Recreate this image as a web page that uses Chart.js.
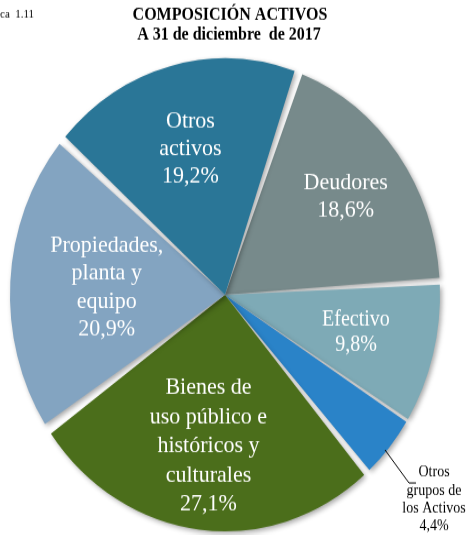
<!DOCTYPE html>
<html>
<head>
<meta charset="utf-8">
<script src="https://cdn.jsdelivr.net/npm/chart.js@4.4.0/dist/chart.umd.min.js"></script>
<style>
  html, body { margin: 0; padding: 0; background: #fff; }
  #wrap { position: relative; width: 472px; height: 535px; overflow: hidden; }
  /* the original picture is stretched vertically, so we stretch the canvas too */
  #chart { position: absolute; left: 0; top: 0; transform: scaleY(1.1); transform-origin: 0 0; }
</style>
</head>
<body>
<div id="wrap"><canvas id="chart" width="472" height="486"></canvas></div>
<script>
// data
const categories = ['Deudores', 'Efectivo', 'Otros grupos de los Activos',
  'Bienes de uso público e históricos y culturales', 'Propiedades, planta y equipo', 'Otros activos'];
const shares = [18.6, 9.8, 4.4, 27.1, 20.9, 19.2];
const labelLines = [
  ['Deudores'],
  ['Efectivo'],
  ['Otros', 'grupos de', 'los Activos'],
  ['Bienes de', 'uso público e', 'históricos y', 'culturales'],
  ['Propiedades,', 'planta y', 'equipo'],
  ['Otros', 'activos']
];
const titleLines = ['COMPOSICIÓN ACTIVOS', 'A 31 de diciembre  de 2017'];

const colors = ['#778a8b', '#7eaab6', '#2a83c8', '#4b6e1b', '#83a4c1', '#2a7697'];
// label placement: fraction of radius, font size, line height
const labelStyle = [
  { r: 0.71, size: 22, lh: 25.5 },
  { r: 0.64, size: 20, lh: 22.7 },
  { r: null, size: 14, lh: 16.3 },
  { r: 0.655, size: 22, lh: 26.5 },
  { r: 0.56, size: 22, lh: 25.5 },
  { r: 0.65, size: 22, lh: 25 }
];

const fmt = v => v.toFixed(1).replace('.', ',') + '%';
const serif = '"Liberation Serif", "Times New Roman", serif';

const shadowPlugin = {
  id: 'sliceShadow',
  beforeDatasetsDraw(chart) {
    const ctx = chart.ctx;
    ctx.save();
    ctx.shadowColor = 'rgba(0,0,0,0.35)';
    ctx.shadowBlur = 5;
    ctx.shadowOffsetX = 2;
    ctx.shadowOffsetY = 2;
  },
  afterDatasetsDraw(chart) {
    chart.ctx.restore();
  }
};

const textPlugin = {
  id: 'sliceText',
  afterDraw(chart) {
    const ctx = chart.ctx;
    ctx.save();
    ctx.textAlign = 'center';
    ctx.textBaseline = 'middle';

    // title + cut-off figure number
    ctx.fillStyle = '#000';
    ctx.font = 'bold 16px ' + serif;
    ctx.fillText(titleLines[0], 230, 13.5);
    ctx.fillText(titleLines[1], 229, 31.5);
    ctx.font = '11px ' + serif;
    ctx.textAlign = 'left';
    ctx.fillText('ca  1.11', 0, 13);
    ctx.textAlign = 'center';

    const meta = chart.getDatasetMeta(0);
    meta.data.forEach((arc, i) => {
      const p = arc.getProps(['x', 'y', 'startAngle', 'endAngle', 'outerRadius'], true);
      const mid = (p.startAngle + p.endAngle) / 2;
      const st = labelStyle[i];
      const lines = labelLines[i].concat([fmt(shares[i])]);
      let cx, cy;
      if (st.r === null) {
        // small slice: label outside with leader line
        const sx = p.x + Math.cos(mid) * p.outerRadius * 0.99;
        const sy = p.y + Math.sin(mid) * p.outerRadius * 0.99 + 6;
        const ex = sx + 24, ey = sy + 30;
        ctx.strokeStyle = '#000';
        ctx.lineWidth = 1;
        ctx.beginPath();
        ctx.moveTo(sx, sy);
        ctx.lineTo(ex, ey);
        ctx.lineTo(ex + 7, ey);
        ctx.stroke();
        ctx.fillStyle = '#000';
        cx = ex + 25;
        cy = ey + 15;
      } else {
        cx = p.x + Math.cos(mid) * p.outerRadius * st.r;
        cy = p.y + Math.sin(mid) * p.outerRadius * st.r;
        ctx.fillStyle = '#fff';
      }
      ctx.font = st.size + 'px ' + serif;
      const top = cy - (lines.length - 1) * st.lh / 2;
      lines.forEach((t, k) => ctx.fillText(t, cx, top + k * st.lh));
    });
    ctx.restore();
  }
};

new Chart(document.getElementById('chart').getContext('2d'), {
  type: 'pie',
  data: {
    labels: categories,
    datasets: [{
      data: shares,
      backgroundColor: colors,
      borderWidth: 0,
      spacing: 7
    }]
  },
  options: {
    responsive: false,
    animation: false,
    rotation: 20,
    layout: { padding: { left: 10, right: 32, top: 53, bottom: 3 } },
    plugins: {
      legend: { display: false },
      title: { display: false },
      tooltip: { enabled: false }
    }
  },
  plugins: [shadowPlugin, textPlugin]
});
</script>
</body>
</html>
